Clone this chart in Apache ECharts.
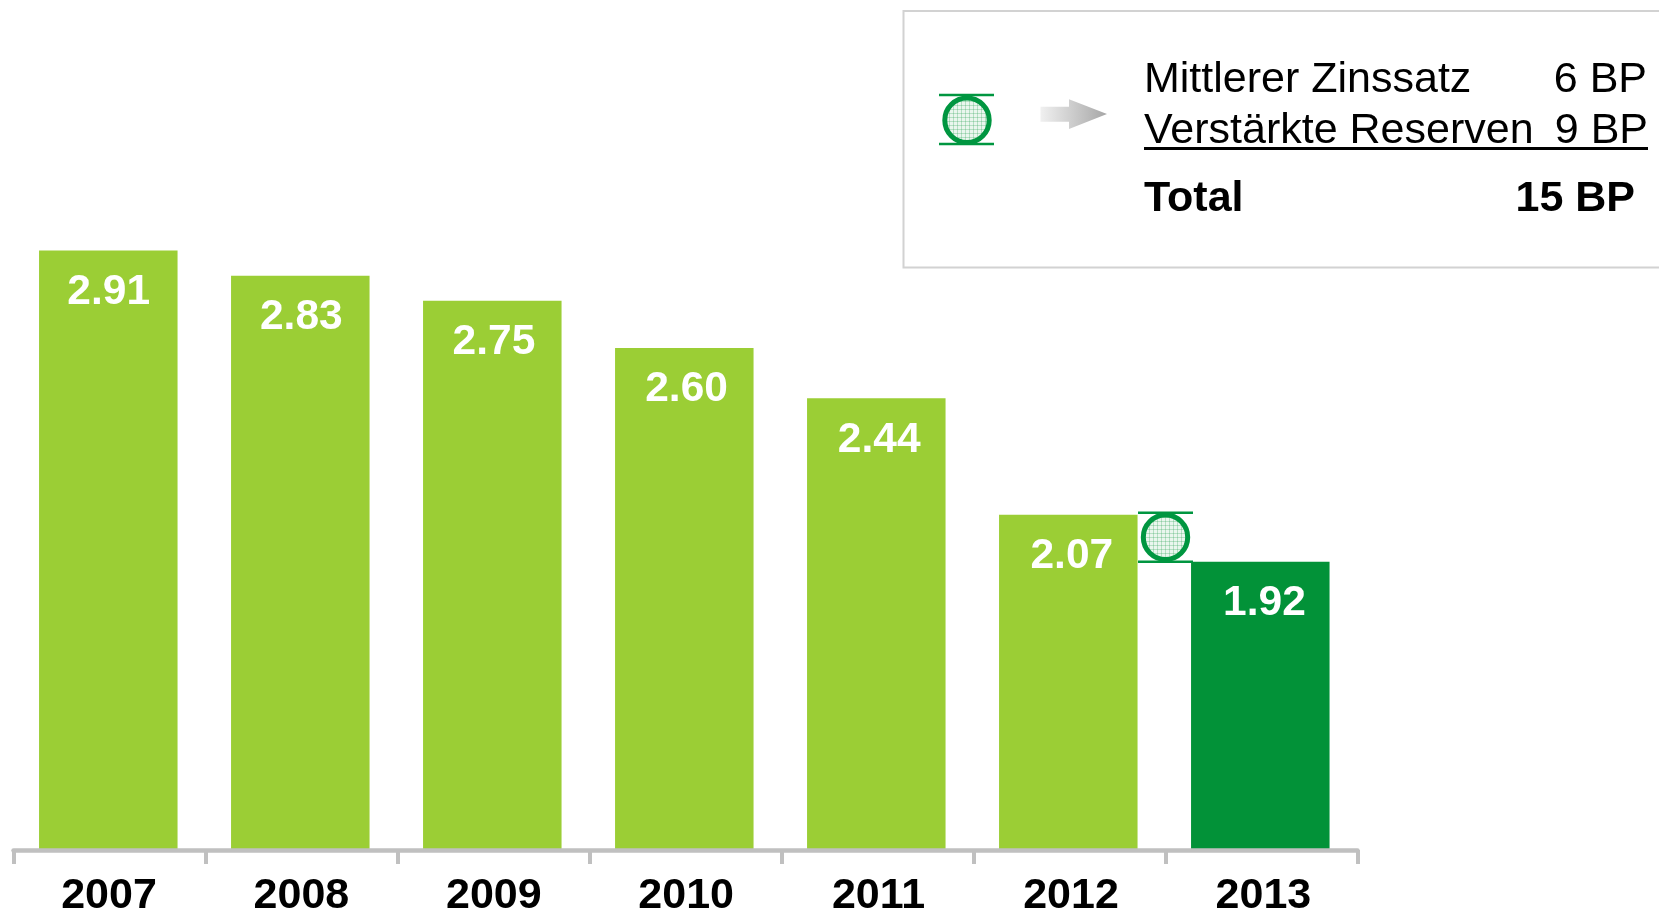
<!DOCTYPE html>
<html><head><meta charset="utf-8">
<style>html,body{margin:0;padding:0;background:#fff}#c{width:1659px;height:912px}</style>
<script src="https://cdn.jsdelivr.net/npm/echarts@6/dist/echarts.min.js"></script>
</head><body><div id="c"></div>
<script>
var years = ['2007','2008','2009','2010','2011','2012','2013'];
var values = [2.91,2.83,2.75,2.60,2.44,2.07,1.92];
var bridgeFrom = 2.07, bridgeTo = 1.92;
var legendRows = [['Mittlerer Zinssatz','6 BP'],['Verstärkte Reserven','9 BP']];
var legendTotal = ['Total','15 BP'];

var FONT = '"Liberation Sans", Arial, sans-serif';
var LIGHT = '#9bce35', DARK = '#029238', RING = '#009640', AXIS = '#c0c0c0';

function hatch(){
  var c = document.createElement('canvas'); c.width = 4; c.height = 4;
  var g = c.getContext('2d');
  g.fillStyle = '#eaf6ee'; g.fillRect(0,0,4,4);
  g.fillStyle = '#b5dfc3'; g.fillRect(0,1,4,1); g.fillRect(1,0,1,4);
  g.fillStyle = '#8fcea5'; g.fillRect(1,1,1,1);
  return {image:c, repeat:'repeat'};
}
var pattern = hatch();

var chart = echarts.init(document.getElementById('c'), null, {renderer:'canvas'});
var L = 13.5, W = 1344, T = 7, H = 843, YMIN = 1.004, YMAX = 3.684;

function txt(x,y,s,bold,align){
  return {type:'text',x:x,y:y,silent:true,style:{text:s,font:(bold?'bold ':'')+'43px '+FONT,fill:'#000',textAlign:align||'left',textVerticalAlign:'bottom'}};
}
function ln(x1,y1,x2,y2,c,w){return {type:'line',silent:true,shape:{x1:x1,y1:y1,x2:x2,y2:y2},style:{stroke:c,lineWidth:w}};}

chart.setOption({
  animation:false,
  backgroundColor:'#fff',
  grid:[
    {left:L,top:T,width:W,height:H,outerBoundsMode:'none'},
    {left:L-1.2,top:T,width:W,height:H,outerBoundsMode:'none'},
    {left:12.8,top:T,width:1346.8,height:H,outerBoundsMode:'none'}
  ],
  xAxis:[
    {type:'category',gridIndex:0,data:years,z:3,
      axisLine:{show:true,onZero:false,lineStyle:{color:AXIS,width:4.5}},
      axisTick:{show:true,alignWithLabel:false,length:14,lineStyle:{color:AXIS,width:4}},
      axisLabel:{show:false},
      splitLine:{show:false}},
    {type:'category',gridIndex:1,data:years,show:false},
    {type:'category',gridIndex:2,data:years,
      axisLine:{show:false},axisTick:{show:false},splitLine:{show:false},
      axisLabel:{show:true,color:'#000',fontFamily:FONT,fontWeight:'bold',fontSize:43,margin:25,interval:0}}
  ],
  yAxis:[
    {type:'value',gridIndex:0,min:YMIN,max:YMAX,show:false},
    {type:'value',gridIndex:1,min:YMIN,max:YMAX,show:false},
    {type:'value',gridIndex:2,min:YMIN,max:YMAX,show:false}
  ],
  series:[
    {type:'bar',xAxisIndex:1,yAxisIndex:1,barWidth:138.5,
      data:values.map(function(v,i){return {value:v,itemStyle:{color:i===values.length-1?DARK:LIGHT},label:{offset:[0.4+i*0.62,0]}};}),
      label:{show:true,position:'insideTop',distance:20,color:'#fff',fontFamily:FONT,fontWeight:'bold',fontSize:42.5,
        formatter:function(p){return p.value.toFixed(2);}}},
    {type:'custom',xAxisIndex:0,yAxisIndex:0,z:5,clip:false,
      data:[[years.length-2,bridgeFrom,bridgeTo]],
      renderItem:function(params,api){
        var band = api.size([1,0])[0];
        var x = api.coord([api.value(0),api.value(1)])[0]+band/2;
        var y1 = api.coord([api.value(0),api.value(1)])[1]-2;
        var y2 = api.coord([api.value(0),api.value(2)])[1];
        var half = 27.5;
        return {type:'group',children:[
          {type:'circle',shape:{cx:x,cy:(y1+y2)/2,r:22.2},style:{fill:pattern,stroke:RING,lineWidth:5}},
          {type:'line',shape:{x1:x-half,y1:y1,x2:x+half,y2:y1},style:{stroke:RING,lineWidth:2.5}},
          {type:'line',shape:{x1:x-half,y1:y2,x2:x+half,y2:y2},style:{stroke:RING,lineWidth:2.5}}
        ]};
      }}
  ],
  graphic:[
    {type:'rect',silent:true,shape:{x:903.5,y:11,width:800,height:256.5},style:{fill:'#fff',stroke:'#d2d2d2',lineWidth:2}},
    {type:'circle',silent:true,shape:{cx:967,cy:120.3,r:22.2},style:{fill:pattern,stroke:RING,lineWidth:5}},
    ln(939,95,994,95,RING,2.5),
    ln(939,144,994,144,RING,2.5),
    {type:'polygon',silent:true,shape:{points:[[1040.5,106.7],[1069,106.7],[1069,99.3],[1107,114],[1069,129],[1069,121.7],[1040.5,121.7]]},
      style:{fill:new echarts.graphic.LinearGradient(0,0,1,0,[{offset:0,color:'#f0f0f0'},{offset:1,color:'#a6a6a6'}])}},
    txt(1144,101.5,legendRows[0][0]), txt(1647,101.5,legendRows[0][1],false,'right'),
    txt(1144,152.5,legendRows[1][0]), txt(1648,152.5,legendRows[1][1],false,'right'),
    ln(1144,148.5,1648,148.5,'#000',3),
    txt(1144,221,legendTotal[0],true), txt(1635,221,legendTotal[1],true,'right')
  ]
});
</script></body></html>
